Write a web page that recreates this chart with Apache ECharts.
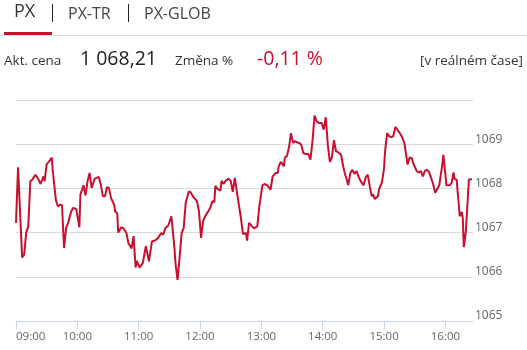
<!DOCTYPE html>
<html><head><meta charset="utf-8">
<script src="https://cdn.jsdelivr.net/npm/echarts@6/dist/echarts.min.js"></script>
<style>html,body{margin:0;padding:0;background:#fff}#c{width:527px;height:350px}</style>
</head><body><div id="c"></div>
<script>
const tabs = ['PX', 'PX-TR', 'PX-GLOB'];
const priceLabel = 'Akt. cena';
const priceValue = '1 068,21';
const changeLabel = 'Změna %';
const changeValue = '-0,11 %';
const realtimeLabel = '[v reálném čase]';

const times = [
'09:00','09:02','09:06','09:08','09:10','09:12','09:14','09:16','09:19','09:22',
'09:24','09:27','09:28','09:30','09:32','09:35','09:36','09:39','09:41','09:43',
'09:45','09:47','09:49','09:51','09:54','09:56','09:59','10:02','10:03','10:06',
'10:08','10:10','10:12','10:14','10:17',
'10:21','10:23','10:25','10:27','10:29','10:31','10:33','10:36','10:37','10:39',
'10:40','10:43','10:45','10:48','10:50','10:53','10:55','10:57','10:58','11:01',
'11:04','11:07','11:10','11:13','11:16','11:19','11:22','11:24','11:26','11:29',
'11:30','11:32',
'11:35','11:36','11:38','11:40','11:42','11:44','11:46','11:49','11:51','11:53',
'11:57','11:59','12:01','12:03','12:05','12:08','12:10','12:12','12:14','12:15',
'12:17','12:20','12:21','12:23','12:25','12:28','12:30','12:32','12:34','12:37',
'12:40','12:42','12:45','12:46','12:48',
'12:51','12:53','12:56','12:58','13:01','13:03','13:06','13:07','13:09','13:11',
'13:14','13:16','13:17','13:19','13:20','13:22','13:23','13:25','13:27','13:29',
'13:31','13:33','13:35','13:37','13:39','13:41','13:43','13:46','13:48','13:50',
'13:52','13:54','13:56','13:59','14:01','14:03',
'14:05','14:07','14:09','14:11','14:13','14:15','14:18','14:20','14:22','14:23',
'14:25','14:27','14:29','14:31','14:33','14:35','14:37','14:40','14:42','14:44',
'14:46','14:48','14:49','14:51','14:54','14:55','14:58','15:00','15:01','15:03',
'15:05','15:07','15:09','15:11','15:13','15:16','15:18','15:20','15:21',
'15:23','15:25','15:27','15:29','15:32','15:34','15:36','15:38','15:40','15:42',
'15:44','15:46','15:48','15:50','15:51','15:54','15:55','15:57','15:58','16:00',
'16:01','16:04','16:06','16:08','16:09','16:11','16:12','16:14','16:16','16:17',
'16:18','16:20','16:23','16:26'
];

const prices = [
1067.22,1068.48,1066.44,1066.50,1067.00,1067.14,1068.16,1068.20,1068.31,1068.20,
1068.10,1068.27,1068.16,1068.55,1068.60,1068.70,1068.39,1067.74,1067.59,1067.63,
1067.62,1066.65,1067.10,1067.22,1067.48,1067.56,1067.53,1067.12,1067.86,1068.07,
1067.84,1068.16,1068.35,1068.01,1068.22,
1068.26,1068.08,1067.82,1067.82,1068.03,1068.00,1067.78,1067.63,1067.48,1067.44,
1067.00,1067.12,1067.10,1066.99,1066.76,1066.64,1066.92,1066.21,1066.36,1066.21,
1066.31,1066.69,1066.35,1066.80,1066.82,1066.88,1066.99,1066.95,1067.10,1067.16,
1067.13,1067.37,
1066.65,1066.31,1065.93,1066.43,1066.99,1067.10,1067.67,1067.93,1067.91,1067.82,
1067.71,1067.48,1066.88,1067.26,1067.37,1067.48,1067.56,1067.71,1067.69,1068.06,
1067.99,1067.95,1068.17,1068.10,1068.17,1068.22,1068.17,1067.92,1068.24,1067.78,
1067.33,1066.97,1066.99,1066.82,1067.22,
1067.14,1067.10,1067.14,1067.59,1068.07,1068.10,1068.07,1068.10,1067.97,1068.27,
1068.35,1068.35,1068.50,1068.60,1068.57,1068.50,1068.70,1068.73,1068.93,1069.25,
1069.03,1069.07,1069.04,1069.03,1068.99,1068.80,1068.78,1068.78,1068.65,1069.07,
1069.65,1069.52,1069.48,1069.48,1069.33,1069.61,
1068.99,1068.60,1068.70,1069.09,1068.84,1068.82,1068.76,1068.50,1068.31,1068.24,
1068.07,1068.35,1068.42,1068.33,1068.39,1068.27,1068.17,1068.07,1068.25,1068.31,
1068.05,1067.82,1067.87,1067.76,1067.82,1067.97,1068.14,1068.46,1068.84,1069.25,
1069.18,1069.16,1069.18,1069.39,1069.33,1069.23,1069.14,1069.01,1068.97,
1068.54,1068.70,1068.69,1068.54,1068.39,1068.36,1068.39,1068.27,1068.40,1068.42,
1068.37,1068.24,1068.10,1067.90,1067.93,1068.07,1068.10,1068.54,1068.76,1068.31,
1068.07,1068.07,1068.12,1068.36,1068.21,1068.20,1068.24,1067.37,1067.47,1067.33,
1066.67,1067.03,1068.20,1068.21
];

const xTickLabels = ['09:00','10:00','11:00','12:00','13:00','14:00','15:00','16:00'];
const yTickValues = [1065,1066,1067,1068,1069,1070];
const sessionStart = '09:00';
const sessionEnd = '16:27';

const toMinBase = (+sessionStart.split(':')[0])*60 + (+sessionStart.split(':')[1]);
function toMin(s){ const p = s.split(':'); return (+p[0])*60 + (+p[1]) - toMinBase; }
function fmt(m){ const t = m + toMinBase; const h = Math.floor(t/60), mm = t%60; return (h<10?'0':'')+h+':'+(mm<10?'0':'')+mm; }

const seriesData = times.map((t,i)=>[toMin(t), prices[i]]);
const xTicks = xTickLabels.map(toMin);

const FONT = "'Open Sans', sans-serif";
const RED = '#c8102e';

const chart = echarts.init(document.getElementById('c'), null, {renderer:'canvas'});
chart.setOption({
  animation: false,
  backgroundColor: '#fff',
  grid: {left: 16, right: 54, top: 100, bottom: 29, containLabel: false},
  xAxis: {
    type: 'value', min: 0, max: toMin(sessionEnd),
    axisLine: {show: true, lineStyle: {color: '#ccd6eb', width: 1}},
    axisTick: {show: true, length: 8, customValues: xTicks, lineStyle: {color: '#ccd6eb'}},
    axisLabel: {customValues: xTicks, formatter: v => fmt(v), color: '#666', fontSize: 11.5,
      fontFamily: FONT, margin: 10, alignMinLabel: 'left'},
    splitLine: {show: false}
  },
  yAxis: {
    type: 'value', position: 'right', min: yTickValues[0], max: yTickValues[yTickValues.length-1], interval: 1,
    axisLine: {show: false}, axisTick: {show: false},
    axisLabel: {formatter: v => v === yTickValues[yTickValues.length-1] ? '' : String(v),
      color: '#666', fontSize: 12, fontFamily: FONT, margin: 2, verticalAlign: 'bottom', padding: [0,0,-1,0]},
    splitLine: {show: true, lineStyle: {color: '#dadada', width: 1}}
  },
  series: [{
    type: 'line', data: seriesData, showSymbol: false, symbol: 'none',
    lineStyle: {color: RED, width: 2}, itemStyle: {color: RED}
  }],
  graphic: [
    {type:'text', left: 14, top: 3, style:{text: tabs[0], fontSize: 18, fontFamily: FONT, fill:'#333'}},
    {type:'line', shape:{x1:52.5, y1:4, x2:52.5, y2:22}, style:{stroke:'#222', lineWidth:1}},
    {type:'text', left: 68, top: 6, style:{text: tabs[1], fontSize: 16, fontFamily: FONT, fill:'#444'}},
    {type:'line', shape:{x1:128.5, y1:4, x2:128.5, y2:22}, style:{stroke:'#222', lineWidth:1}},
    {type:'text', left: 144, top: 6, style:{text: tabs[2], fontSize: 16, fontFamily: FONT, fill:'#444'}},
    {type:'line', shape:{x1:0, y1:35.5, x2:527, y2:35.5}, style:{stroke:'#dddddd', lineWidth:1}},
    {type:'rect', shape:{x:4, y:32, width:48, height:3}, style:{fill: RED}},
    {type:'text', left: 4, top: 54, style:{text: priceLabel, fontSize: 13.5, fontFamily: FONT, fill:'#333'}},
    {type:'text', left: 80, top: 49, style:{text: priceValue, fontSize: 19.5, fontFamily: FONT, fill:'#222'}},
    {type:'text', left: 175, top: 54, style:{text: changeLabel, fontSize: 13.5, fontFamily: FONT, fill:'#333'}},
    {type:'text', left: 257, top: 49, style:{text: changeValue, fontSize: 19.5, fontFamily: FONT, fill: RED}},
    {type:'text', right: 4, top: 54, style:{text: realtimeLabel, fontSize: 13.5, fontFamily: FONT, fill:'#333'}}
  ]
});
</script>
</body></html>
